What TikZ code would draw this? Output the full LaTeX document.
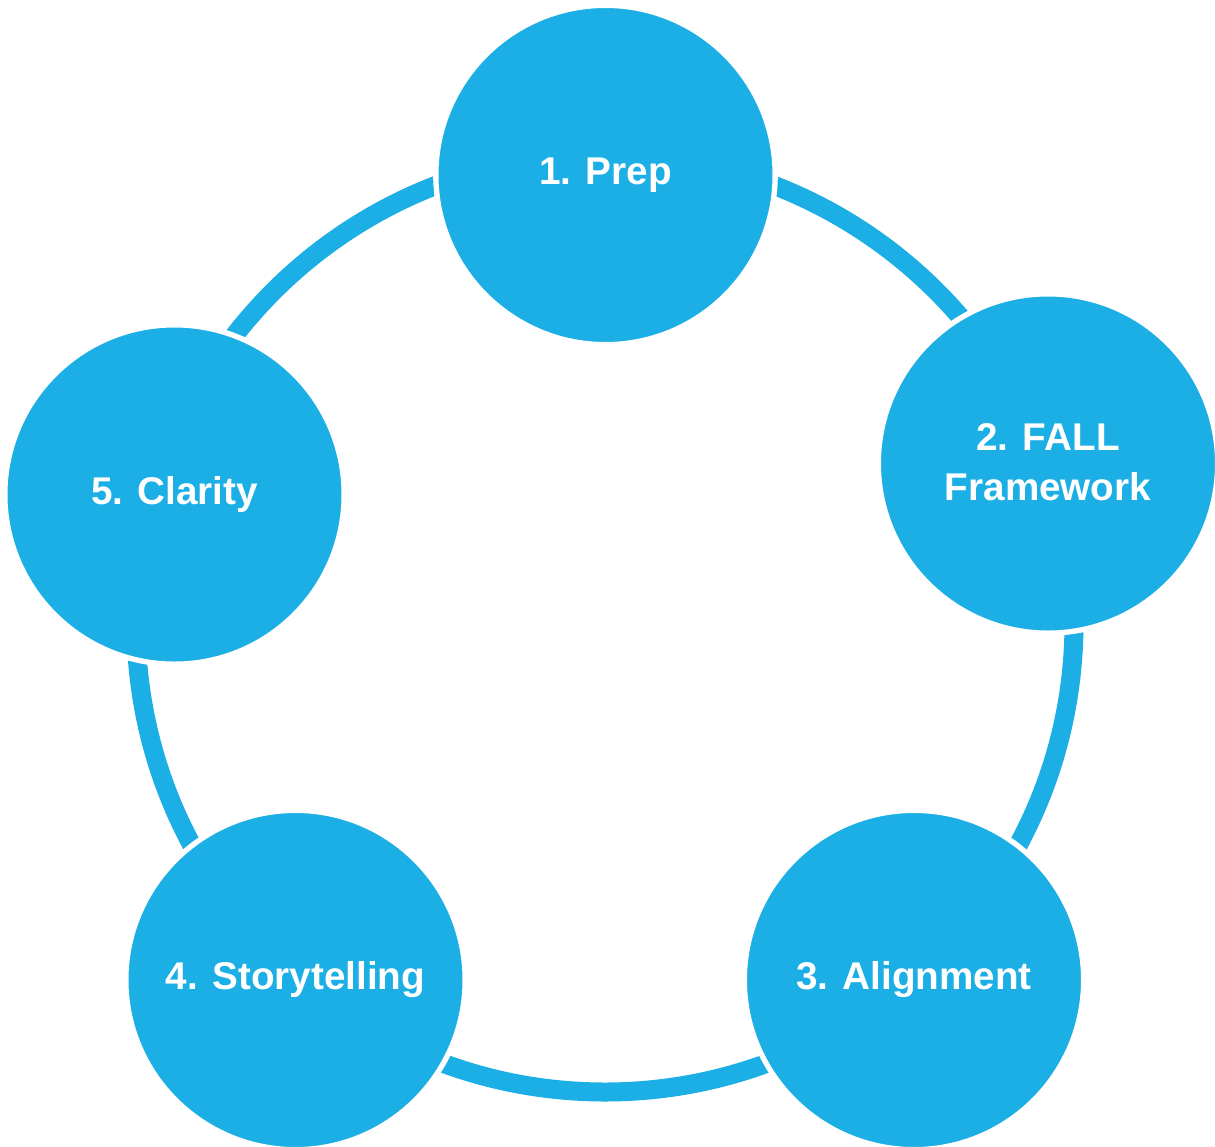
\documentclass[tikz,border=0pt]{standalone}
\usepackage{fontspec}
\setmainfont{Liberation Sans}
\definecolor{ringblue}{RGB}{27,175,229}
\tikzset{
  stage/.style={circle, fill=ringblue, draw=white, line width=4pt,
    minimum size=254.5pt, inner sep=0pt, text=white, align=center,
    font=\bfseries\fontsize{29}{37.5}\selectfont},
  ring/.style={draw=ringblue, line width=14.25pt}
}
\begin{document}
\begin{tikzpicture}[x=0.75pt, y=-0.75pt]
\useasboundingbox[fill=white] (0,0) rectangle (1215,1147);
\coordinate (c) at (605,623);
\draw[ring] (c) circle[radius=469];
\node[stage] (prep) at (605.5,175) {1. Prep};
\node[stage] (fall) at (1048,463.5) {\raisebox{3pt}{2. FALL}\\\raisebox{3pt}{Framework}};
\node[stage] (align) at (914,980) {3. Alignment};
\node[stage] (story) at (295.5,980) {4. Storytelling};
\node[stage] (clar) at (174.5,494.5) {5. Clarity};
\end{tikzpicture}
\end{document}
